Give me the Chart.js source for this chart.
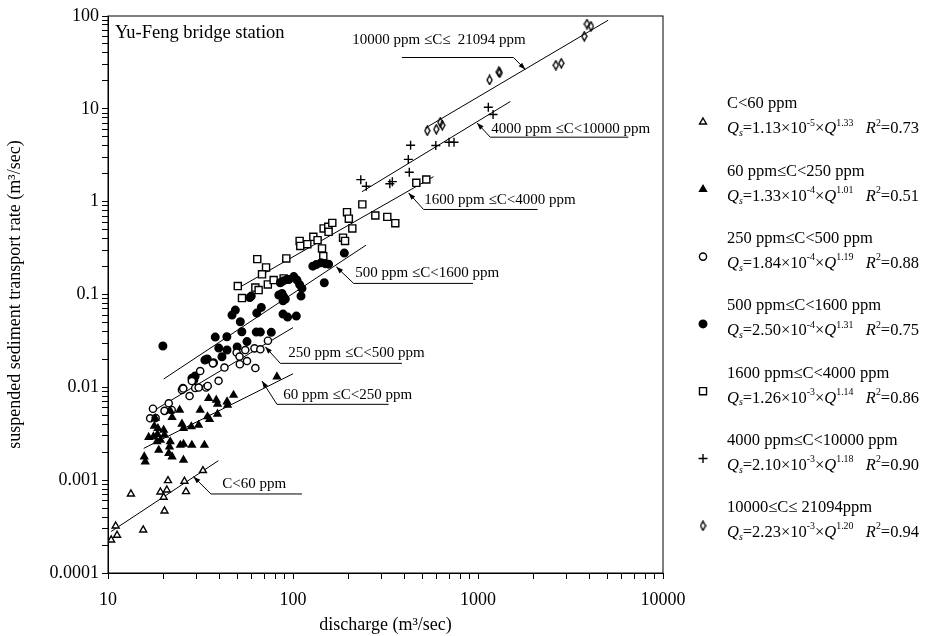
<!DOCTYPE html>
<html>
<head>
<meta charset="utf-8">
<script src="https://cdn.jsdelivr.net/npm/chart.js@4.4.1/dist/chart.umd.min.js"></script>
<style>
html, body { margin: 0; padding: 0; background: #fff; }
</style>
</head>
<body>
<canvas id="myChart" width="935" height="636"></canvas>
<script>
// concentration classes
var classLabels = ['C<60 ppm', '60 ppm\u2264C<250 ppm', '250 ppm\u2264C<500 ppm', '500 ppm\u2264C<1600 ppm',
  '1600 ppm\u2264C<4000 ppm', '4000 ppm\u2264C<10000 ppm', '10000\u2264C\u2264 21094ppm'];

// discharge Q (m3/sec) and sediment rate Qs (m3/sec)
var q60 = [10.4, 11.0, 11.2, 13.3, 15.5, 19.2, 20.0, 20.8, 21.1, 20.2, 25.9, 26.4, 32.6];
var qs60 = [0.000227, 0.000321, 0.000255, 0.00071, 0.000291, 0.000746, 0.000655, 0.000784, 0.000988, 0.000466, 0.000973, 0.000752, 0.00127];

var q250 = [15.7, 15.9, 16.6, 17.6, 17.8, 18.0, 18.4, 18.5, 18.6, 18.8, 19.2, 20.0, 20.2, 21.3, 21.5, 21.7, 21.7, 22.2, 22.2, 24.4,
  24.6, 25.1, 25.6, 25.6, 25.6, 28.2, 28.4, 30.9, 31.5, 33.2, 34.5, 35.0, 35.4, 38.5, 39.1, 39.1, 44.0, 44.3, 47.7, 81.9];
var qs250 = [0.00179, 0.00158, 0.0029, 0.00294, 0.00383, 0.00464, 0.0026, 0.00312, 0.00362, 0.00211, 0.00271, 0.00347, 0.00307, 0.00195, 0.00229, 0.0026, 0.0056, 0.00475, 0.00179, 0.0057,
  0.00239, 0.00403, 0.00362, 0.00245, 0.00165, 0.00377, 0.00239, 0.00393, 0.0057, 0.00239, 0.00483, 0.00761, 0.00452, 0.0073, 0.00661, 0.00516, 0.0070, 0.00645, 0.00826, 0.0130];

var q500 = [16.9, 17.5, 18.1, 20.2, 21.3, 22.1, 25.1, 25.5, 27.6, 28.4, 29.6, 31.5, 30.9, 33.9, 34.6, 36.9, 39.6, 42.6, 49.6, 51.4,
  51.6, 55.2, 56.4, 62.6, 61.9, 66.6, 73.2];
var qs500 = [0.00464, 0.00588, 0.00467, 0.00558, 0.00673, 0.0057, 0.00935, 0.0097, 0.00806, 0.01169, 0.00983, 0.01498, 0.00995, 0.00995, 0.01033, 0.01813, 0.01175, 0.01633, 0.02369, 0.02145,
  0.01773, 0.02521, 0.01919, 0.01614, 0.0263, 0.0257, 0.03174];

var q1600 = [19.8, 25.4, 28.4, 29.1, 29.6, 33.4, 34.4, 37.2, 38.0, 39.7, 41.3, 43.9, 44.0, 49.9, 52.9, 56.4, 63.3, 66.6, 76.3, 46.8,
  48.8, 51.9, 63.7, 67.4, 58.4, 59.5, 83.8, 88.3, 88.3, 93.5, 104.2, 110.5, 85.4, 88.3, 92.8, 94.9, 87.2, 89.0, 90.9, 101,
  105.1, 108.6, 111.8, 128, 133.6, 141.7, 149.5, 155.7, 147.6, 189.4];
var qs1600 = [0.02784, 0.00975, 0.0125, 0.01199, 0.01323, 0.01967, 0.02017, 0.0184, 0.03479, 0.02649, 0.02135, 0.03505, 0.02521, 0.02716, 0.03968, 0.03112, 0.03938, 0.03938, 0.03909, 0.06002,
  0.06794, 0.05083, 0.06308, 0.07263, 0.09261, 0.09611, 0.09852, 0.08552, 0.06152, 0.05711, 0.05855, 0.09611, 0.1337, 0.1394, 0.1454, 0.1447, 0.1027, 0.09445, 0.08922, 0.1558,
  0.1429, 0.1278, 0.1163, 0.2021, 0.2099, 0.2194, 0.215, 0.2124, 0.1337, 0.2791];

var q4000 = [50.3, 53.0, 64.1, 62.6, 65.2, 71.5, 68.0, 73.1, 78.6, 89.0, 92.0, 108.6, 109.5, 119.5, 128.8, 135.8, 143.5, 145.8, 146.4, 155.1,
  155.7, 163.1, 186.4, 191.1, 195.9, 200.3, 209.2, 237, 278.6, 323.4, 357.3, 464, 525.5];
var qs4000 = [0.1232, 0.09145, 0.2404, 0.1187, 0.1116, 0.1957, 0.165, 0.1284, 0.1429, 0.149, 0.2446, 0.3776, 0.3335, 0.3487, 0.4178, 0.3851, 0.3134, 0.259, 0.5146, 0.5354,
  0.4729, 0.591, 0.4096, 0.3776, 0.7709, 0.6561, 0.5146, 0.9353, 0.7101, 0.6859, 0.5867, 1.595, 1.734];

var q10000 = [232.5, 249, 333.7, 344.3, 425.2, 420, 432.2, 591.4, 697, 741.9, 1137, 1206];
var qs10000 = [1.726, 1.468, 1.562, 1.642, 2.078, 2.853, 4.056, 4.027, 4.37, 4.37, 10.4, 8.68];

var q21094 = [532.1, 595.1, 625.5, 641.2, 1155, 1295, 1311, 2634, 2820, 3754, 3883, 4081];
var qs21094 = [5.81, 6.03, 7.17, 6.66, 20.47, 24.95, 24.46, 29.48, 30.98, 60.45, 82.0, 77.44];

// regression lines: end points
var fitQ = [[10.4, 39.5], [15.6, 100], [17.9, 100], [20, 248], [52, 575], [236, 1496], [519, 5050]];
var fitQs = [[0.00028, 0.00162], [0.0022, 0.014], [0.0057, 0.044], [0.0123, 0.34], [0.121, 1.86], [1.28, 12], [6.2, 90]];

// regression coefficients shown in the legend
var fitA = ['1.13', '1.33', '1.84', '2.50', '1.26', '2.10', '2.23'];
var fitExp = ['-5', '-4', '-4', '-4', '-3', '-3', '-3'];
var fitB = ['1.33', '1.01', '1.19', '1.31', '1.14', '1.18', '1.20'];
var fitR2 = ['0.73', '0.51', '0.88', '0.75', '0.86', '0.90', '0.94'];

// axis ticks
var xDecades = [10, 100, 1000, 10000];
var yDecades = [0.0001, 0.001, 0.01, 0.1, 1, 10, 100];

var seriesQ = [q60, q250, q500, q1600, q4000, q10000, q21094];
var seriesQs = [qs60, qs250, qs500, qs1600, qs4000, qs10000, qs21094];

// lozenge marker for the last class
var diamond = document.createElement('canvas');
diamond.width = 7; diamond.height = 11;
(function () {
  var c = diamond.getContext('2d');
  c.strokeStyle = '#000';
  c.lineWidth = 1.4;
  c.beginPath();
  c.moveTo(3.5, 1); c.lineTo(6, 5.5); c.lineTo(3.5, 10); c.lineTo(1, 5.5); c.closePath();
  c.stroke();
})();

var markers = [
  { pointStyle: 'triangle', radius: 4, fill: '#fff' },
  { pointStyle: 'triangle', radius: 4, fill: '#000' },
  { pointStyle: 'circle', radius: 3.6, fill: '#fff' },
  { pointStyle: 'circle', radius: 3.8, fill: '#000' },
  { pointStyle: 'rect', radius: 5, fill: '#fff' },
  { pointStyle: 'cross', radius: 4.5, fill: '#000' },
  { pointStyle: diamond, radius: 5, fill: '#fff' }
];

// callout labels (data coordinates)
var callouts = [
  { text: '10000 ppm \u2264C\u2264  21094 ppm', tip: [1802, 26.5], elbow: [1557, 35.7], end: [388, 35.7], at: [209, 54.8] },
  { text: '4000 ppm \u2264C<10000 ppm', tip: [988, 7.05], elbow: [1165, 4.95], end: [6493, 4.95], at: [1180, 6.03] },
  { text: '1600 ppm \u2264C<4000 ppm', tip: [421.5, 1.243], elbow: [508, 0.824], end: [2099, 0.824], at: [512.7, 1.038] },
  { text: '500 ppm \u2264C<1600 ppm', tip: [171.4, 0.1987], elbow: [212.6, 0.1317], end: [939.6, 0.1317], at: [217.2, 0.17] },
  { text: '250 ppm \u2264C<500 ppm', tip: [70.8, 0.02735], elbow: [85.4, 0.01813], end: [388, 0.01813], at: [94.3, 0.02339] },
  { text: '60 ppm \u2264C<250 ppm', tip: [68.0, 0.01169], elbow: [81.9, 0.006561], end: [328.7, 0.006561], at: [88.6, 0.00826] },
  { text: 'C<60 ppm', tip: [29.0, 0.001091], elbow: [36.0, 0.00071], end: [111.8, 0.00071], at: [41.5, 0.00091] }
];

var serif = '"Liberation Serif", "Times New Roman", serif';
Chart.defaults.font.family = serif;
Chart.defaults.color = '#000';

var datasets = [];
seriesQ.forEach(function (qArr, i) {
  datasets.push({
    label: classLabels[i],
    data: qArr.map(function (v, j) { return { x: v, y: seriesQs[i][j] }; }),
    pointStyle: markers[i].pointStyle,
    pointRadius: markers[i].radius,
    pointHoverRadius: markers[i].radius,
    backgroundColor: markers[i].fill,
    borderColor: '#000',
    pointBorderWidth: 1.4,
    showLine: false
  });
});
fitQ.forEach(function (pair, i) {
  datasets.push({
    label: 'fit ' + classLabels[i],
    data: [{ x: pair[0], y: fitQs[i][0] }, { x: pair[1], y: fitQs[i][1] }],
    showLine: true,
    borderColor: '#000',
    borderWidth: 1,
    pointRadius: 0,
    fill: false
  });
});

function logTicks(decades) {
  var out = [];
  for (var k = 0; k < decades.length; k++) {
    for (var m = 1; m <= 9; m++) {
      if (k === decades.length - 1 && m > 1) break;
      out.push({ value: Number((m * decades[k]).toPrecision(3)) });
    }
  }
  return out;
}
function isDecade(v) {
  var l = Math.log10(v);
  return Math.abs(l - Math.round(l)) < 1e-9;
}

function drawRich(ctx, segs, x, y, size) {
  var cx = x;
  segs.forEach(function (s) {
    var small = s.sup || s.sub;
    var fs = small ? size * 0.6 : size;
    ctx.font = (s.i ? 'italic ' : '') + fs + 'px ' + serif;
    var dy = s.sup ? -size * 0.36 : (s.sub ? size * 0.28 : 0);
    ctx.fillText(s.t, cx, y + dy);
    cx += ctx.measureText(s.t).width;
  });
}

var decorPlugin = {
  id: 'decor',
  afterDraw: function (chart) {
    var ctx = chart.ctx;
    var a = chart.chartArea;
    var xs = chart.scales.x, ys = chart.scales.y;
    ctx.save();
    // frame
    ctx.strokeStyle = '#000';
    ctx.lineWidth = 1;
    ctx.strokeRect(a.left, a.top, a.right - a.left, a.bottom - a.top);

    // station name
    ctx.fillStyle = '#000';
    ctx.textBaseline = 'middle';
    ctx.textAlign = 'left';
    ctx.font = '18.5px ' + serif;
    ctx.fillText('Yu-Feng bridge station', a.left + 7, a.top + 17);

    // callouts
    ctx.font = '15px ' + serif;
    callouts.forEach(function (c) {
      var tx = xs.getPixelForValue(c.tip[0]), ty = ys.getPixelForValue(c.tip[1]);
      var ex = xs.getPixelForValue(c.elbow[0]), ey = ys.getPixelForValue(c.elbow[1]);
      var nx = xs.getPixelForValue(c.end[0]), ny = ys.getPixelForValue(c.end[1]);
      ctx.beginPath();
      ctx.moveTo(nx, ny); ctx.lineTo(ex, ey); ctx.lineTo(tx, ty);
      ctx.lineWidth = 1;
      ctx.stroke();
      var ang = Math.atan2(ty - ey, tx - ex);
      ctx.beginPath();
      ctx.moveTo(tx, ty);
      ctx.lineTo(tx - 7 * Math.cos(ang) + 2.5 * Math.sin(ang), ty - 7 * Math.sin(ang) - 2.5 * Math.cos(ang));
      ctx.lineTo(tx - 7 * Math.cos(ang) - 2.5 * Math.sin(ang), ty - 7 * Math.sin(ang) + 2.5 * Math.cos(ang));
      ctx.closePath();
      ctx.fill();
      ctx.fillText(c.text, xs.getPixelForValue(c.at[0]), ys.getPixelForValue(c.at[1]));
    });

    // legend
    var mx = a.right + 40, lx = a.right + 64;
    classLabels.forEach(function (lab, i) {
      var y0 = 104 + i * 67.3;
      ctx.font = '16.5px ' + serif;
      ctx.fillText(lab, lx, y0);
      drawRich(ctx, [
        { t: 'Q', i: true }, { t: 's', i: true, sub: true },
        { t: '=' + fitA[i] + '\u00d710' }, { t: fitExp[i], sup: true },
        { t: '\u00d7' }, { t: 'Q', i: true }, { t: fitB[i], sup: true },
        { t: '   ' }, { t: 'R', i: true }, { t: '2', sup: true }, { t: '=' + fitR2[i] }
      ], lx, y0 + 25, 16.5);
      ctx.fillStyle = markers[i].fill;
      ctx.strokeStyle = '#000';
      ctx.lineWidth = 1.4;
      Chart.helpers.drawPoint(ctx, { pointStyle: markers[i].pointStyle, radius: markers[i].radius, rotation: 0, borderWidth: 1.4 }, mx, y0 + 18);
      ctx.fillStyle = '#000';
    });
    ctx.restore();
  }
};

var ctx = document.getElementById('myChart');
var chart = new Chart(ctx, {
  type: 'scatter',
  data: { datasets: datasets },
  plugins: [decorPlugin],
  options: {
    responsive: false,
    animation: false,
    devicePixelRatio: 1,
    layout: { padding: { top: 16, right: 272, bottom: 0, left: 0 } },
    plugins: { legend: { display: false }, tooltip: { enabled: false } },
    scales: {
      x: {
        type: 'logarithmic',
        min: xDecades[0],
        max: xDecades[xDecades.length - 1],
        afterBuildTicks: function (s) { s.ticks = logTicks(xDecades); },
        afterFit: function (s) { s.height = 63; },
        ticks: {
          autoSkip: false, maxRotation: 0, padding: 10,
          font: { size: 18 },
          callback: function (v) { return isDecade(v) ? String(v) : ''; }
        },
        grid: { drawOnChartArea: false, tickLength: 6, tickColor: '#000' },
        border: { color: '#000', width: 1 },
        title: { display: true, text: 'discharge (m\u00b3/sec)', font: { size: 18 }, padding: { top: 0, bottom: 0 } }
      },
      y: {
        type: 'logarithmic',
        min: yDecades[0],
        max: yDecades[yDecades.length - 1],
        afterBuildTicks: function (s) { s.ticks = logTicks(yDecades); },
        afterFit: function (s) { s.width = 108; },
        ticks: {
          autoSkip: false, padding: 3,
          font: { size: 18 },
          callback: function (v) { return isDecade(v) ? String(v) : ''; }
        },
        grid: { drawOnChartArea: false, tickLength: 6, tickColor: '#000' },
        border: { color: '#000', width: 1 },
        title: { display: true, text: 'suspended sediment transport rate (m\u00b3/sec)', font: { size: 18 }, padding: { top: 4, bottom: 0 } }
      }
    }
  }
});
</script>
</body>
</html>
